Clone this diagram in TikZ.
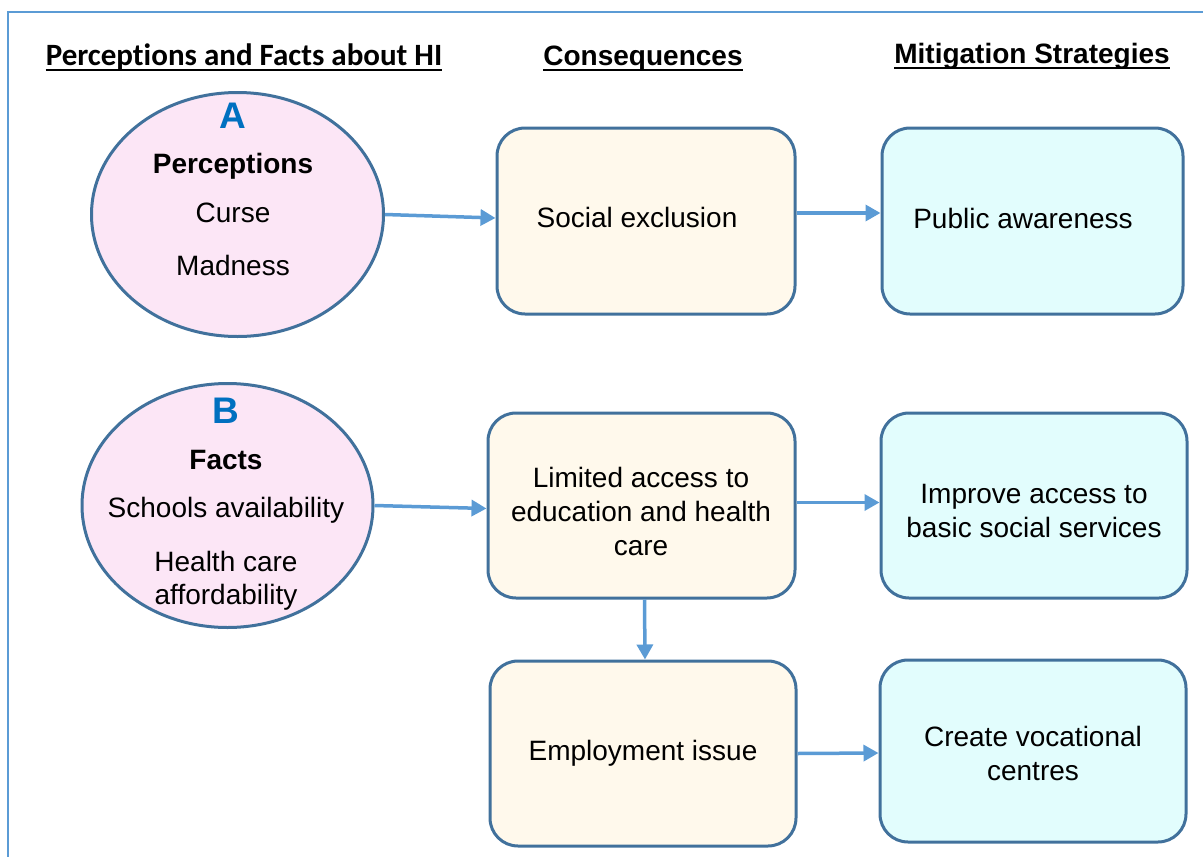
\documentclass[tikz,border=0pt]{standalone}
\usepackage{fontspec}
\setmainfont{Liberation Sans}
\newfontfamily\headfont[Ligatures=NoCommon]{Carlito}
\usetikzlibrary{arrows.meta,shapes.geometric}
\definecolor{frameblue}{HTML}{5B9BD5}
\definecolor{edgeblue}{HTML}{41719C}
\definecolor{letterblue}{HTML}{0070C0}
\definecolor{pinkfill}{HTML}{FCE6F6}
\definecolor{creamfill}{HTML}{FFF9EC}
\definecolor{cyanfill}{HTML}{E2FDFD}
\tikzset{
  txt/.style={font=\fontsize{28}{34}\selectfont, align=center, anchor=base, inner sep=0pt},
  boldtxt/.style={txt, font=\fontsize{28}{34}\selectfont\bfseries},
  letter/.style={anchor=base, inner sep=0pt, text=letterblue, font=\fontsize{37}{40}\selectfont\bfseries},
  header/.style={anchor=base, inner sep=0pt, font=\fontsize{28}{34}\selectfont\bfseries},
  firstheader/.style={anchor=base, inner sep=0pt, font=\headfont\fontsize{31}{36}\selectfont\bfseries},
  rule/.style={draw=black, line width=2.6pt},
  oval/.style={ellipse, draw=edgeblue, line width=3pt, fill=pinkfill, inner sep=0pt},
  conbox/.style={rectangle, rounded corners=28pt, draw=edgeblue, line width=3pt, fill=creamfill, inner sep=0pt},
  mitbox/.style={conbox, fill=cyanfill},
  link/.style={draw=frameblue, line width=3.5pt, -{Triangle[length=15pt,width=16pt]}}
}
\begin{document}
\begin{tikzpicture}[x=1pt,y=-1pt]
\useasboundingbox (0,0) rectangle (1203,857);
% outer frame (top and left edges only)
\draw[frameblue, line width=2.8pt] (8,857) -- (8,12) -- (1203,12);

% column headers with their underlines
\node[firstheader] (h1) at (244,65) {Perceptions and Facts about HI};
\node[header] (h2) at (643,65) {Consequences};
\node[header] (h3) at (1032,63) {Mitigation Strategies};
\draw[rule] ([yshift=-5pt]h1.base west) -- ([yshift=-5pt]h1.base east);
\draw[rule] ([yshift=-5pt]h2.base west) -- ([yshift=-5pt]h2.base east);
\draw[rule] ([yshift=-5pt]h3.base west) -- ([yshift=-5pt]h3.base east);

% ovals
\node[oval, minimum width=292pt, minimum height=244pt] (ovA) at (237.5,214.5) {};
\node[oval, minimum width=291pt, minimum height=244pt] (ovB) at (227.5,505.5) {};

% consequence boxes
\node[conbox, minimum width=298pt, minimum height=186pt] (soc) at (646,221) {};
\node[conbox, minimum width=307pt, minimum height=185pt] (lim) at (641.5,505.5) {};
\node[conbox, minimum width=306pt, minimum height=185pt] (emp) at (643,753.5) {};

% mitigation boxes
\node[mitbox, minimum width=301pt, minimum height=186pt] (pub) at (1032.5,221) {};
\node[mitbox, minimum width=306pt, minimum height=185pt] (imp) at (1034,505.5) {};
\node[mitbox, minimum width=306pt, minimum height=182pt] (voc) at (1033,751) {};

% oval A text
\node[letter] (la) at (233,128) {A};
\node[boldtxt] (pa) at (233,173) {Perceptions};
\node[txt] (pa1) at (233,222) {Curse};
\node[txt] (pa2) at (233,275) {Madness};

% oval B text
\node[letter] (lb) at (226,423) {B};
\node[boldtxt] (fb) at (226,469) {Facts};
\node[txt] (fb1) at (226,517) {Schools availability};
\node[txt] (fb2) at (226,571) {Health care};
\node[txt] (fb3) at (226,604) {affordability};

% box texts (base anchor sits on the last line)
\node[txt] (tsoc) at (637,227) {Social exclusion};
\node[txt] (tpub) at (1023,228) {Public awareness};
\node[txt] (tlim) at (641,555) {Limited access to\\education and health\\care};
\node[txt] (timp) at (1034,537) {Improve access to\\basic social services};
\node[txt] (temp) at (643,760) {Employment issue};
\node[txt] (tvoc) at (1033,780) {Create vocational\\centres};

% connectors
\draw[link] (ovA.east) -- ([yshift=3pt]soc.west);
\draw[link] ([yshift=8pt]soc.east) -- ([yshift=8pt]pub.west);
\draw[link] (ovB.east) -- ([yshift=-3pt]lim.west);
\draw[link] ([yshift=3pt]lim.east) -- ([yshift=3pt]imp.west);
\draw[link] ([xshift=3pt]lim.south) -- ([xshift=2pt]emp.north);
\draw[link] (emp.east) -- ([yshift=-2pt]voc.west);
\end{tikzpicture}
\end{document}
